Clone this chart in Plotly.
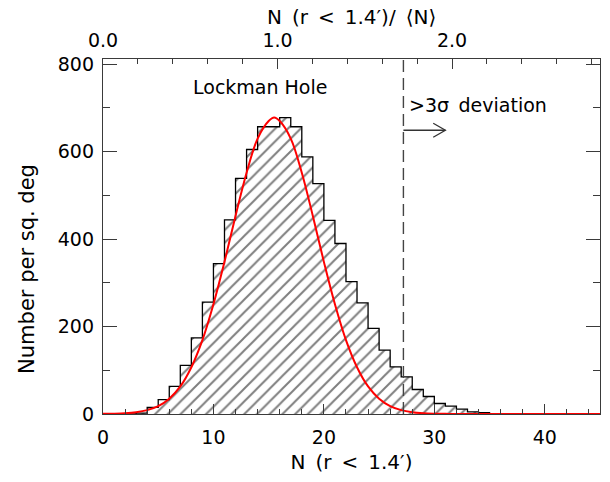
import plotly.graph_objects as go

# ---- data ----
bin_left = list(range(0, 45))
counts = [0, 0, 0, 2, 15, 33, 63, 111, 174, 256, 344, 444, 539, 605, 657,
          657, 678, 657, 588, 527, 443, 390, 303, 254, 196, 146, 108, 85, 56,
          40, 24, 18, 11, 5, 3, 1, 0, 0, 0, 0, 0, 0, 0, 0, 0]

fit_x = [0, 1, 2, 3, 4, 5, 6, 7, 8, 9, 10, 11, 12, 13, 14, 15, 15.5, 16, 17,
         18, 19, 20, 21, 22, 23, 24, 25, 26, 27, 28, 29, 30, 31, 32, 35, 40, 45]
fit_y = [0.3, 0.7, 1.7, 4.0, 8.8, 18, 35, 63, 107, 169, 251, 348, 453, 552,
         630, 670, 678, 670, 630, 552, 453, 348, 251, 169, 107, 63, 35, 18,
         8.8, 4.0, 1.7, 0.7, 0.3, 0.1, 0, 0, 0]

mean_N = 15.8          # <N> used for the top axis
threshold = 27.2       # >3 sigma line
x_ticks = [0, 10, 20, 30, 40]
y_ticks = [0, 200, 400, 600, 800]
top_ticks = [0.0, 1.0, 2.0]

FONT = "DejaVu Sans"
AX = "#3a3a3a"
SP = "\u2002"

step_x = bin_left + [bin_left[-1] + 1]
step_y = counts + [counts[-1]]

fig = go.Figure()
fig.add_trace(go.Scatter(
    x=step_x, y=step_y, mode="lines", line=dict(shape="hv", color="black", width=1.3),
    fill="tozeroy", fillcolor="white",
    fillpattern=dict(shape="/", fgcolor="black", bgcolor="white", size=9, solidity=0.22),
    hoverinfo="skip", showlegend=False))
fig.add_trace(go.Scatter(
    x=fit_x, y=fit_y, mode="lines", line=dict(color="red", width=2, shape="spline"),
    hoverinfo="skip", showlegend=False))
# helper trace so that the top axis is drawn
fig.add_trace(go.Scatter(x=top_ticks, y=[0] * len(top_ticks), xaxis="x2", mode="none",
                         hoverinfo="skip", showlegend=False))

fig.add_shape(type="line", xref="x", yref="paper", x0=threshold, x1=threshold, y0=0, y1=1,
              line=dict(color="#444", width=1.4, dash="12px,6px"))
# arrow
ya = 649
fig.add_shape(type="line", xref="x", yref="y", x0=threshold, x1=31.0, y0=ya, y1=ya,
              line=dict(color="#333", width=1.3))
fig.add_shape(type="path", xref="x", yref="y",
              path=f"M 29.9 {ya + 16} L 31.0 {ya} L 29.9 {ya - 16}",
              line=dict(color="#333", width=1.3))

fig.add_annotation(x=14.2, y=747, xref="x", yref="y", text="Lockman Hole", showarrow=False,
                   font=dict(family=FONT, size=19, color="black"))
fig.add_annotation(x=27.5, y=706, xref="x", yref="y", text=">3σ\u2002deviation", showarrow=False,
                   xanchor="left", font=dict(family=FONT, size=19, color="black"))
# axis titles placed as annotations (paper coordinates)
fig.add_annotation(x=0.5, y=1.118, xref="paper", yref="paper", yanchor="middle",
                   text=f"N{SP}(r{SP}<{SP}1.4′)/{SP}⟨N⟩", showarrow=False,
                   font=dict(family=FONT, size=20, color="black"))
fig.add_annotation(x=-0.152, y=0.41, xref="paper", yref="paper", xanchor="center",
                   yanchor="middle", textangle=-90, text="Number per sq. deg", showarrow=False,
                   font=dict(family=FONT, size=21, color="black"))

axis_common = dict(showline=True, linecolor=AX, linewidth=1.3, ticks="inside",
                   tickcolor=AX, showgrid=False, zeroline=False, automargin=False,
                   tickfont=dict(family=FONT, size=19, color="black"))

fig.update_layout(
    width=610, height=482,
    margin=dict(l=103, r=10, t=59, b=68),
    paper_bgcolor="white", plot_bgcolor="white",
    font=dict(family=FONT, size=19, color="black"),
    xaxis=dict(range=[0, 45], tickvals=x_ticks, ticklen=10,
               minor=dict(dtick=2, tick0=0, ticklen=5, ticks="inside", tickcolor=AX),
               title=dict(text=f"N{SP}(r{SP}<{SP}1.4′)", font=dict(family=FONT, size=20), standoff=8),
               ticklabelstandoff=6, **axis_common),
    xaxis2=dict(range=[0, 45 / mean_N], overlaying="x", side="top", anchor="y",
                tickvals=top_ticks, tickformat=".1f", ticklen=10,
                minor=dict(dtick=0.2, tick0=0, ticklen=5, ticks="inside", tickcolor=AX),
                ticklabelstandoff=3, **axis_common),
    yaxis=dict(range=[0, 812], tickvals=y_ticks, ticklen=14, mirror="ticks",
               minor=dict(dtick=100, tick0=0, ticklen=7, ticks="inside", tickcolor=AX),
               ticklabelstandoff=4, **axis_common),
)

fig.write_html("out.html", config={"displayModeBar": False},
               post_script="document.body.style.margin='0';document.body.style.overflow='hidden';")
